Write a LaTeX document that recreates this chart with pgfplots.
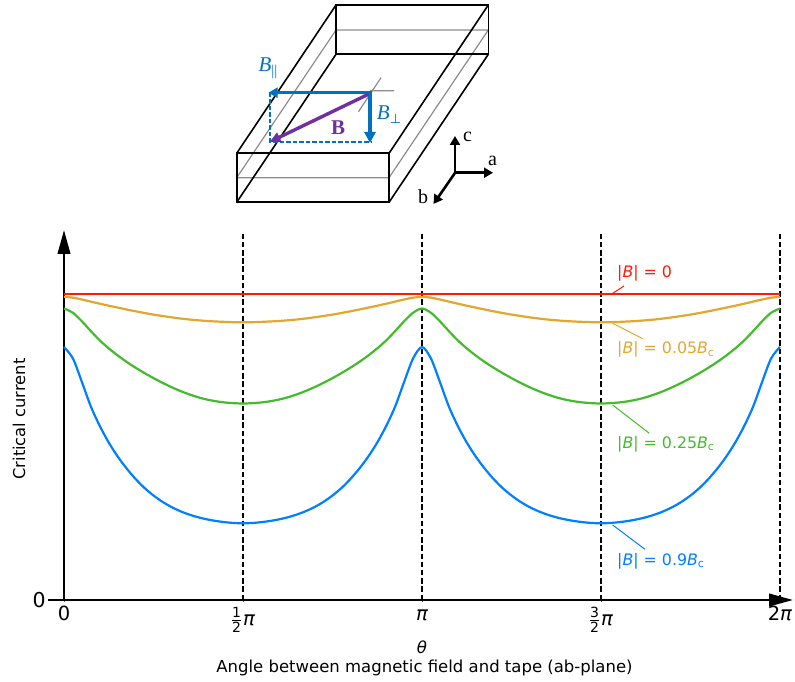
\documentclass[border=0pt]{standalone}
\usepackage{amsmath}
\usepackage{fontspec}
\setmainfont{DejaVu Sans}
\newfontfamily\dserif{Liberation Serif}
\usepackage{pgfplots}
\usepackage{pgfplotstable}
\pgfplotsset{compat=1.18}
\usetikzlibrary{arrows.meta}
\definecolor{cred}{HTML}{FF1A00}
\definecolor{corange}{HTML}{E3A62F}
\definecolor{cgreen}{HTML}{44BB2C}
\definecolor{cblue}{HTML}{0080FF}
\definecolor{dblue}{HTML}{0070C0}
\definecolor{dpurple}{HTML}{7030A0}
\definecolor{dgray}{HTML}{8C8C8C}
% x in units of pi, y in arbitrary units (height above zero)
\pgfplotstableread{
x     orange green blue
0.000 303.2 291.5 253.0
0.025 302.3 287.2 241.5
0.050 300.5 278.7 218.0
0.075 298.4 268.9 193.5
0.100 296.3 259.6 174.0
0.125 294.3 251.6 157.5
0.150 292.4 244.5 143.5
0.175 290.5 238.1 131.5
0.200 288.7 232.3 121.0
0.225 287.0 226.9 112.0
0.250 285.4 221.9 104.5
0.275 284.0 217.2 98.2
0.300 282.7 212.9 93.0
0.325 281.5 209.0 88.8
0.350 280.5 205.6 85.4
0.375 279.7 202.7 82.7
0.400 279.0 200.4 80.6
0.425 278.5 198.7 79.0
0.450 278.1 197.5 77.8
0.475 277.8 196.8 77.0
0.500 277.7 196.5 76.7
0.525 277.8 196.8 77.0
0.550 278.1 197.5 77.8
0.575 278.5 198.7 79.0
0.600 279.0 200.4 80.6
0.625 279.7 202.7 82.7
0.650 280.5 205.6 85.4
0.675 281.5 209.0 88.8
0.700 282.7 212.9 93.0
0.725 284.0 217.2 98.2
0.750 285.4 221.9 104.5
0.775 287.0 226.9 112.0
0.800 288.7 232.3 121.0
0.825 290.5 238.1 131.5
0.850 292.4 244.5 143.5
0.875 294.3 251.6 157.5
0.900 296.3 259.6 174.0
0.925 298.4 268.9 193.5
0.950 300.5 278.7 218.0
0.975 302.3 287.2 241.5
1.000 303.2 291.5 253.0
1.025 302.3 287.2 241.5
1.050 300.5 278.7 218.0
1.075 298.4 268.9 193.5
1.100 296.3 259.6 174.0
1.125 294.3 251.6 157.5
1.150 292.4 244.5 143.5
1.175 290.5 238.1 131.5
1.200 288.7 232.3 121.0
1.225 287.0 226.9 112.0
1.250 285.4 221.9 104.5
1.275 284.0 217.2 98.2
1.300 282.7 212.9 93.0
1.325 281.5 209.0 88.8
1.350 280.5 205.6 85.4
1.375 279.7 202.7 82.7
1.400 279.0 200.4 80.6
1.425 278.5 198.7 79.0
1.450 278.1 197.5 77.8
1.475 277.8 196.8 77.0
1.500 277.7 196.5 76.7
1.525 277.8 196.8 77.0
1.550 278.1 197.5 77.8
1.575 278.5 198.7 79.0
1.600 279.0 200.4 80.6
1.625 279.7 202.7 82.7
1.650 280.5 205.6 85.4
1.675 281.5 209.0 88.8
1.700 282.7 212.9 93.0
1.725 284.0 217.2 98.2
1.750 285.4 221.9 104.5
1.775 287.0 226.9 112.0
1.800 288.7 232.3 121.0
1.825 290.5 238.1 131.5
1.850 292.4 244.5 143.5
1.875 294.3 251.6 157.5
1.900 296.3 259.6 174.0
1.925 298.4 268.9 193.5
1.950 300.5 278.7 218.0
1.975 302.3 287.2 241.5
2.000 303.2 291.5 253.0
}\curves
\newcommand\hf[1]{\raisebox{-5pt}{$\frac{\mbox{\fontsize{14}{15}\selectfont #1}}{\mbox{\fontsize{14}{15}\selectfont 2}}$\hspace{1pt}\textit{π}}}
\newcommand\lab[1]{|\textit{B}| = #1\textit{B}\raisebox{-2.5pt}{\fontsize{11}{12}\selectfont c}}
\begin{document}
\begin{tikzpicture}[x=1pt,y=1pt]
\path[use as bounding box] (0,0) rectangle (795,681);
\begin{axis}[
  at={(64pt,81pt)}, anchor=south west,
  scale only axis, width=729pt, height=370pt,
  xmin=0, xmax=2.0363, ymin=0, ymax=370,
  axis lines=left, clip=false,
  axis line style={line width=2.3pt,
    -{Triangle[length=24pt,width=12.5pt]}},
  xtick={0,0.5,1,1.5,2},
  xticklabels={0,{\hf{1}},\textit{π},{\hf{3}},2\textit{π}},
  ytick={0}, yticklabels={0},
  major tick length=3.5pt,
  every tick/.style={black!60,line width=1pt},
  xticklabel style={font=\fontsize{19.5}{21}\selectfont, inner sep=0pt, anchor=north, text height=18.5pt, text depth=0pt},
  yticklabel style={font=\fontsize{20.5}{22}\selectfont, inner sep=0pt, anchor=east, xshift=-16.5pt},
  ylabel={Critical current},
  ylabel style={at={(rel axis cs:-0.0617,0.489)}, anchor=center, font=\fontsize{16.3}{18}\selectfont},
  xlabel={\textit{θ}\hspace*{5pt}\\Angle between magnetic field and tape (ab-plane)},
  xlabel style={at={(rel axis cs:0.4945,-0.159)}, anchor=center, align=center, font=\fontsize{16.5}{19}\selectfont},
]
\addplot[black,line width=1.4pt,dash pattern=on 5.5pt off 2.7pt] coordinates {(0.5,0) (0.5,366)};
\addplot[black,line width=1.4pt,dash pattern=on 5.5pt off 2.7pt] coordinates {(1,0) (1,366)};
\addplot[black,line width=1.4pt,dash pattern=on 5.5pt off 2.7pt] coordinates {(1.5,0) (1.5,366)};
\addplot[black,line width=1.4pt,dash pattern=on 5.5pt off 2.7pt] coordinates {(2,0) (2,366)};
\addplot[cred,line width=2.2pt] coordinates {(0,306) (2,306)};
\addplot[corange,line width=2.2pt,smooth] table[x=x,y=orange] {\curves};
\addplot[cgreen,line width=2.2pt,smooth] table[x=x,y=green] {\curves};
\addplot[cblue,line width=2.2pt,smooth] table[x=x,y=blue] {\curves};
\draw[black,line width=2pt] (axis cs:-0.0447,0) -- (axis cs:0,0);
\end{axis}
% px coordinates, y downward from the top
\begin{scope}[yshift=681pt,y=-1pt,x=1pt]
  \draw[cred,line width=1pt] (624,286)--(612.7,293.3);
  \draw[corange,line width=1pt] (612.7,323.3)--(642.7,338.7);
  \draw[cgreen,line width=1pt] (612.7,405)--(649.3,433.3);
  \draw[cblue,line width=1pt] (612.7,525)--(645,549.3);
  \begin{scope}[every node/.style={anchor=west,inner sep=0pt,font=\fontsize{15.8}{18}\selectfont}]
    \node[text=cred] at (617,273) {|\textit{B}| = 0};
    \node[text=corange] at (617,349.5) {\lab{0.05}};
    \node[text=cgreen] at (617,444) {\lab{0.25}};
    \node[text=cblue] at (617,561) {\lab{0.9}};
  \end{scope}
  % tape sketch
  \draw[dgray,line width=1.2pt] (236.7,177.7)--(389,177.7)--(488.3,30)--(336,30)--cycle;
  \draw[black,line width=1.6pt] (236.7,153.3)--(389,153.3)--(389,202.3)--(236.7,202.3)--cycle;
  \draw[black,line width=1.6pt] (336,5)--(488.3,5)--(488.3,54.3)--(336,54.3)--cycle;
  \draw[black,line width=1.6pt] (236.7,153.3)--(336,5) (389,153.3)--(488.3,5)
    (236.7,202.3)--(336,54.3) (389,202.3)--(488.3,54.3);
  \draw[dgray,line width=1.2pt] (370,90.7)--(394,90.7) (358.5,111.7)--(381,77.7);
  \draw[dblue,line width=1.8pt,dash pattern=on 4.5pt off 2pt] (270,93)--(270,141.7)--(371,141.7);
  \draw[dblue,line width=3.6pt,-{Triangle[length=9pt,width=10pt]}] (371,92.7)--(268.5,92.7);
  \draw[dblue,line width=3.6pt,-{Triangle[length=11pt,width=11pt]}] (370,91)--(370,143);
  \draw[dpurple,line width=3.4pt,-{Triangle[length=11pt,width=10pt]}] (368.3,94.3)--(269.5,142);
  \node[text=dblue,font=\fontsize{21}{23}\dserif\itshape] at (268,68) {B\raisebox{-4pt}{\upshape\fontsize{15}{16}\selectfont||}};
  \node[text=dblue,font=\fontsize{21}{23}\dserif\itshape] at (389,114.5) {B\raisebox{-4pt}{\fontsize{13}{14}\upshape\fontspec{DejaVu Sans}⊥}};
  \node[text=dpurple,font=\fontsize{21}{23}\dserif\bfseries] at (338,127.5) {B};
  \draw[black,line width=2.6pt,-{Triangle[length=9pt,width=10pt]}] (455,173.5)--(455,136);
  \draw[black,line width=2.6pt,-{Triangle[length=9pt,width=10pt]}] (454,172.7)--(493,172.7);
  \draw[black,line width=2.6pt,-{Triangle[length=9pt,width=10pt]}] (455.5,172.2)--(433.5,204);
  \node[font=\fontsize{20}{22}\dserif] at (467.5,137) {c};
  \node[font=\fontsize{20}{22}\dserif] at (492.5,161) {a};
  \node[font=\fontsize{20}{22}\dserif] at (423,197) {b};
\end{scope}
\end{tikzpicture}
\end{document}
